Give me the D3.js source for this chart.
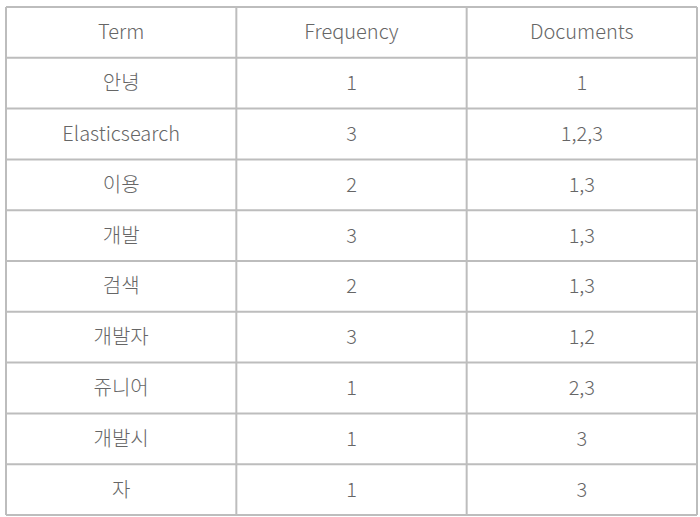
<!DOCTYPE html><html><head><meta charset="utf-8"><script src="https://cdn.jsdelivr.net/npm/d3@7"></script>
<style>body{margin:0;background:#fff}</style></head><body><svg id="c" width="700" height="517"></svg>
<script>
const headers=["Term","Frequency","Documents"];
const terms=["안녕","Elasticsearch","이용","개발","검색","개발자","쥬니어","개발시","자"];
const frequency=[1,3,2,3,2,3,1,1,1];
const documents=["1","1,2,3","1,3","1,3","1,3","1,2","2,3","3","3"];
const rows=[headers].concat(terms.map((t,i)=>[t,String(frequency[i]),documents[i]]));
const svg=d3.select("#c");
const x=d3.scaleLinear().domain([0,3]).range([6,697]);
const y=d3.scaleLinear().domain([0,10]).range([7,515]);
const g=svg.append("g");
for(let i=0;i<=10;i++)g.append("line").attr("x1",x(0)).attr("x2",x(3)).attr("y1",y(i)).attr("y2",y(i)).attr("stroke","#bdbdbd").attr("stroke-width",2);
for(let j=0;j<=3;j++)g.append("line").attr("x1",x(j)).attr("x2",x(j)).attr("y1",y(0)).attr("y2",y(10)).attr("stroke","#bdbdbd").attr("stroke-width",2);
rows.forEach((r,i)=>r.forEach((v,j)=>{
 g.append("text").attr("x",(x(j)+x(j+1))/2).attr("y",(y(i)+y(i+1))/2).attr("dy","0.35em").attr("text-anchor","middle")
  .attr("font-family","'Noto Sans CJK KR','Noto Sans',sans-serif").attr("font-weight",300).attr("font-size",20).attr("fill","#666").text(v);
}));
</script></body></html>
